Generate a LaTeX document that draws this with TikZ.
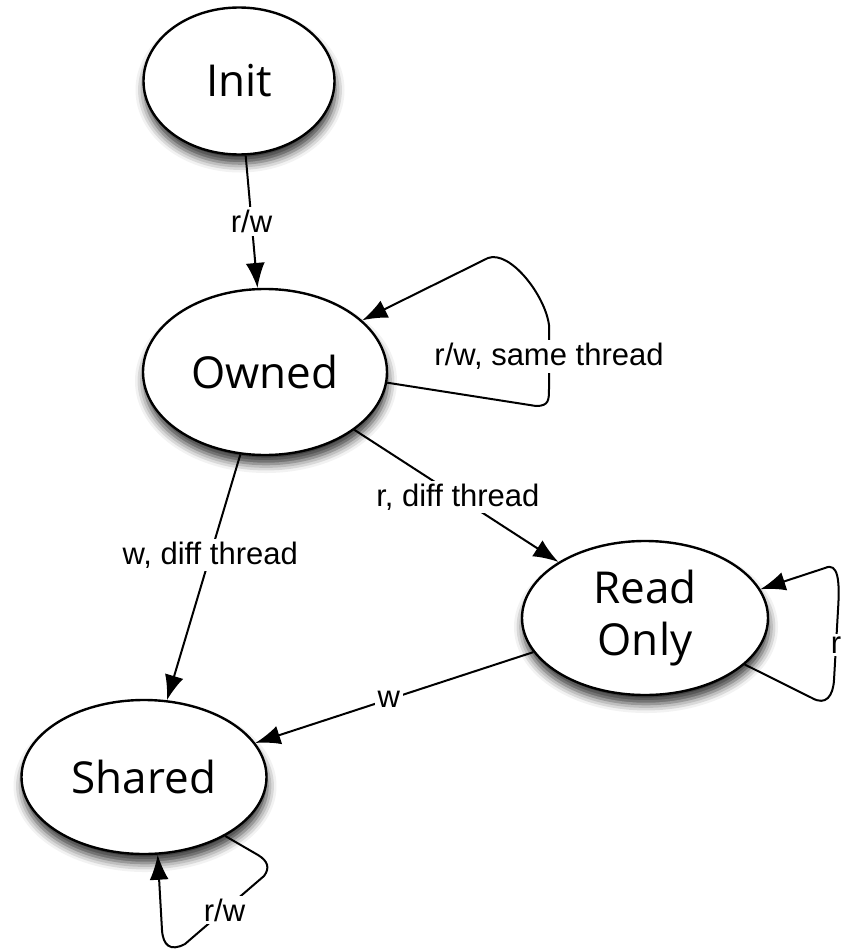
\documentclass[tikz,border=0pt]{standalone}
\usepackage{fontspec}
\setmainfont{Liberation Sans}
\newfontfamily\statefont{Open Sans}
\usetikzlibrary{arrows.meta,shapes.geometric,shadows.blur}
\begin{document}
\begin{tikzpicture}[x=1pt,y=-1pt,
  state/.style={ellipse, draw=black, line width=2.4pt, fill=white, inner sep=0pt,
    font=\statefont\fontsize{44}{52}\selectfont, align=center,
    blur shadow={shadow xshift=1pt, shadow yshift=-9pt, shadow blur radius=9pt, shadow opacity=80}},
  conn/.style={line width=2pt, -{Latex[length=25pt,width=19pt]}},
  lbl/.style={fill=white, inner sep=3pt, font=\fontsize{31}{33}\selectfont}]
\useasboundingbox (0,0) rectangle (847,950);

\node[state, minimum width=191pt, minimum height=147pt] (init) at (239,81) {Init};
\node[state, minimum width=244pt, minimum height=166pt] (owned) at (265,372) {Owned};
\node[state, minimum width=246pt, minimum height=154pt] (ro) at (645,618) {Read\\Only};
\node[state, minimum width=245pt, minimum height=154pt] (sh) at (144,777) {Shared};

\draw[conn] (init) -- node[lbl]{r/w} (owned);
\draw[conn] (owned) -- node[lbl, pos=0.507]{r, diff thread} (ro);
\draw[conn] (owned) -- node[lbl, pos=0.41]{w, diff thread} (sh);
\draw[conn] (ro.197) -- node[lbl, pos=0.52]{w} (sh.17);

% self loops
\draw[conn] (owned.-5) -- (536,406) .. controls (549,406) and (549,400) .. (549,388)
  -- node[lbl]{r/w, same thread} (549,325)
  .. controls (545,295) and (510,250) .. (488,258) -- (owned.28);
\draw[conn] (ro.-25) -- (812,698) .. controls (826,706) and (833,696) .. (834,680)
  -- node[lbl]{r} (838,610)
  .. controls (840,580) and (838,562) .. (825,568) -- (ro.14);
\draw[conn] (sh.-36) -- (258,855) .. controls (268,861) and (270,868) .. (264,876)
  -- node[lbl]{r/w} (185,944)
  .. controls (170,952) and (163,945) .. (162,930) -- (sh.-80);
\end{tikzpicture}
\end{document}
